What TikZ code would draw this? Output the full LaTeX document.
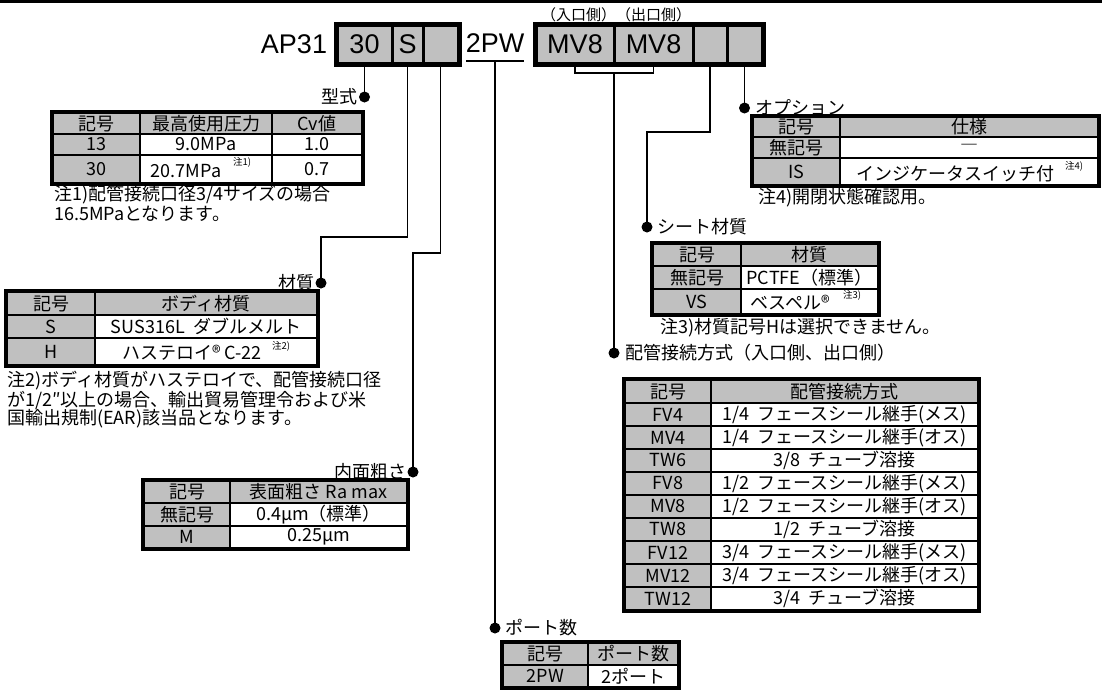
\documentclass[tikz,border=0pt]{standalone}
\usepackage{fontspec}
\setmainfont{Noto Sans CJK JP}
\newfontfamily\codefont{Liberation Sans}
\definecolor{CellGray}{HTML}{C0C0C0}
\usetikzlibrary{positioning}

\begin{document}
\begin{tikzpicture}[x=1pt, y=-1pt,
    font=\fontsize{18}{19}\selectfont,
    hd/.style={rectangle, draw, line width=2.4pt, fill=CellGray, inner sep=0pt},
    bd/.style={rectangle, draw, line width=2.4pt, fill=white, inner sep=0pt},
    sz/.style 2 args={minimum width=#1pt, minimum height=#2pt},
    cbx/.style={hd, line width=3pt, minimum height=38pt, font=\codefont\fontsize{27}{30}\selectfont},
    code/.style={font=\codefont\fontsize{27}{30}\selectfont, inner sep=0pt},
    frame/.style={line width=3.5pt},
    dot/.style={circle, fill, inner sep=0pt, minimum size=11pt},
    lead/.style={line width=1.4pt},
    sup/.style={font=\fontsize{9.5}{10}\selectfont, inner sep=0pt},
    lbl/.style={inner sep=0pt}]
    \useasboundingbox (0,0) rectangle (1102,691);
    \draw[line width=3.5pt] (0,1.5) -- (1102,1.5);

    % model code
    \node[code] (ap) at (294,44) {AP31};
    \node[cbx, minimum width=55pt] (c30) at (364.5,44) {30};
    \node[cbx, minimum width=31pt] (cS) at (407.5,44) {S};
    \node[cbx, minimum width=35pt] (cE1) at (440.5,44) {};
    \draw[line width=4pt] (c30.north west) rectangle (cE1.south east);
    \node[code] (n2pw) at (495,43) {2PW};
    \coordinate (uL) at (466,61);
    \coordinate (uR) at (524,61);
    \coordinate (u2pw) at (495,61);
    \draw[lead] (uL) -- (uR);
    \node[cbx, minimum width=78pt] (cIn) at (575,44) {MV8};
    \node[cbx, minimum width=79pt] (cOut) at (653.5,44) {MV8};
    \node[cbx, minimum width=34pt] (cE2) at (710,44) {};
    \node[cbx, minimum width=35pt] (cE3) at (744.5,44) {};
    \draw[line width=4pt] (cIn.north west) rectangle (cE3.south east);
    \node[font=\fontsize{15}{16}\selectfont] (io) at (616,15) {（入口側）（出口側）};

    % leads
    \node[dot] (dType) at (364.5,97) {};
    \draw[lead] (c30.south) -- (dType.center);
    \coordinate (jMat) at (321,237);
    \node[dot] (dMat) at (321,283) {};
    \draw[lead] (cS.south) |- (jMat) -- (dMat.center);
    \coordinate (jRgh) at (413,253);
    \node[dot] (dRgh) at (413,472) {};
    \draw[lead] (cE1.south) |- (jRgh) -- (dRgh.center);
    \node[dot] (dPort) at (495,628) {};
    \draw[lead] (u2pw) -- (dPort.center);
    \coordinate (brk) at (614,73);
    \node[dot] (dPipe) at (614,353) {};
    \draw[lead] (cIn.south) |- (brk) -| (cOut.south);
    \draw[lead] (brk) -- (dPipe.center);
    \coordinate (jSeat) at (647,132);
    \node[dot] (dSeat) at (647,227) {};
    \draw[lead] (cE2.south) |- (jSeat) -- (dSeat.center);
    \node[dot] (dOpt) at (744.5,108) {};
    \draw[lead] (cE3.south) -- (dOpt.center);

    \node[lbl, left=1pt of dType] (lType) {型式};
    \node[lbl, left=1pt of dMat] (lMat) {材質};
    \node[lbl, left=1pt of dRgh] (lRgh) {内面粗さ};
    \node[lbl, right=5pt of dPort] (lPort) {ポート数};
    \node[lbl, right=6pt of dPipe] (lPipe) {配管接続方式（入口側、出口側）};
    \node[lbl, right=5pt of dSeat] (lSeat) {シート材質};
    \node[lbl, right=5pt of dOpt] (lOpt) {オプション};

    % type
    \node[hd, sz={87}{21}] (tT11) at (96.5,123.5) {記号};
    \node[hd, sz={132}{21}] (tT12) at (206,123.5) {最高使用圧力};
    \node[hd, sz={90}{21}] (tT13) at (317,123.5) {Cv値};
    \node[hd, sz={87}{21}] (tT21) at (96.5,144.5) {13};
    \node[bd, sz={132}{21}] (tT22) at (206,144.5) {9.0MPa};
    \node[bd, sz={90}{21}] (tT23) at (317,144.5) {1.0};
    \node[hd, sz={87}{28}] (tT31) at (96.5,169) {30};
    \node[bd, sz={132}{28}] (tT32) at (206,169) {};
    \node[bd, sz={90}{28}] (tT33) at (317,169) {0.7};
    \node[lbl] (tT32a) at (186,171) {20.7MPa};
    \node[sup] (tT32b) at (242,162) {注1)};
    \draw[frame] (tT11.north west) rectangle (tT33.south east);
    \node[lbl, anchor=west] (nT1) at (54,195) {注1)配管接続口径3/4サイズの場合};
    \node[lbl, anchor=west] (nT2) at (54,214) {16.5MPaとなります。};

    % body material
    \node[hd, sz={88}{23}] (tM11) at (51,303.5) {記号};
    \node[hd, sz={222}{23}] (tM12) at (206,303.5) {ボディ材質};
    \node[hd, sz={88}{23}] (tM21) at (51,326.5) {S};
    \node[bd, sz={222}{23}] (tM22) at (206,326.5) {SUS316L\ \ ダブルメルト};
    \node[hd, sz={88}{27}] (tM31) at (51,351.5) {H};
    \node[bd, sz={222}{27}] (tM32) at (206,351.5) {};
    \node[lbl] (tM32a) at (192,353) {ハステロイ® C-22};
    \node[sup] (tM32b) at (281,346) {注2)};
    \draw[frame] (tM11.north west) rectangle (tM32.south east);
    \node[lbl, anchor=west] (nM1) at (7,381) {注2)ボディ材質がハステロイで、配管接続口径};
    \node[lbl, anchor=west] (nM2) at (7,400) {が1/2″以上の場合、輸出貿易管理令および米};
    \node[lbl, anchor=west] (nM3) at (7,419) {国輸出規制(EAR)該当品となります。};

    % roughness
    \node[hd, sz={86}{22}] (tR11) at (187,492) {記号};
    \node[hd, sz={177}{22}] (tR12) at (318.5,492) {表面粗さ Ra max};
    \node[hd, sz={86}{23}] (tR21) at (187,514.5) {無記号};
    \node[bd, sz={177}{23}] (tR22) at (318.5,514.5) {0.4μm（標準）};
    \node[hd, sz={86}{22}] (tR31) at (187,537) {M};
    \node[bd, sz={177}{22}] (tR32) at (318.5,537) {0.25μm};
    \draw[frame] (tR11.north west) rectangle (tR32.south east);

    % ports
    \node[hd, sz={85}{22}] (tP11) at (545.5,654) {記号};
    \node[hd, sz={90}{22}] (tP12) at (633,654) {ポート数};
    \node[hd, sz={85}{22}] (tP21) at (545.5,676) {2PW};
    \node[bd, sz={90}{22}] (tP22) at (633,676) {2ポート};
    \draw[frame] (tP11.north west) rectangle (tP22.south east);

    % pipe connection
    \node[hd, sz={86}{23}] (tF01) at (668,391.5) {記号};
    \node[hd, sz={267}{23}] (tF02) at (844.5,391.5) {配管接続方式};
    \node[hd, sz={86}{23}] (tF11) at (668,414.5) {FV4};
    \node[bd, sz={267}{23}] (tF12) at (844.5,414.5) {1/4\ \ フェースシール継手(メス)};
    \node[hd, sz={86}{23}] (tF21) at (668,437.5) {MV4};
    \node[bd, sz={267}{23}] (tF22) at (844.5,437.5) {1/4\ \ フェースシール継手(オス)};
    \node[hd, sz={86}{23}] (tF31) at (668,460.5) {TW6};
    \node[bd, sz={267}{23}] (tF32) at (844.5,460.5) {3/8\ \ チューブ溶接};
    \node[hd, sz={86}{23}] (tF41) at (668,483.5) {FV8};
    \node[bd, sz={267}{23}] (tF42) at (844.5,483.5) {1/2\ \ フェースシール継手(メス)};
    \node[hd, sz={86}{23}] (tF51) at (668,506.5) {MV8};
    \node[bd, sz={267}{23}] (tF52) at (844.5,506.5) {1/2\ \ フェースシール継手(オス)};
    \node[hd, sz={86}{23}] (tF61) at (668,529.5) {TW8};
    \node[bd, sz={267}{23}] (tF62) at (844.5,529.5) {1/2\ \ チューブ溶接};
    \node[hd, sz={86}{23}] (tF71) at (668,552.5) {FV12};
    \node[bd, sz={267}{23}] (tF72) at (844.5,552.5) {3/4\ \ フェースシール継手(メス)};
    \node[hd, sz={86}{23}] (tF81) at (668,575.5) {MV12};
    \node[bd, sz={267}{23}] (tF82) at (844.5,575.5) {3/4\ \ フェースシール継手(オス)};
    \node[hd, sz={86}{23}] (tF91) at (668,598.5) {TW12};
    \node[bd, sz={267}{23}] (tF92) at (844.5,598.5) {3/4\ \ チューブ溶接};
    \draw[frame] (tF01.north west) rectangle (tF92.south east);

    % seat
    \node[hd, sz={88}{22}] (tS11) at (697,255) {記号};
    \node[hd, sz={137}{22}] (tS12) at (809.5,255) {材質};
    \node[hd, sz={88}{23}] (tS21) at (697,277.5) {無記号};
    \node[bd, sz={137}{23}] (tS22) at (809.5,277.5) {PCTFE（標準）};
    \node[hd, sz={88}{25}] (tS31) at (697,301.5) {VS};
    \node[bd, sz={137}{25}] (tS32) at (809.5,301.5) {};
    \node[lbl] (tS32a) at (790,303) {ベスペル®};
    \node[sup] (tS32b) at (852,295) {注3)};
    \draw[frame] (tS11.north west) rectangle (tS32.south east);
    \node[lbl, anchor=west] (nS1) at (660,328) {注3)材質記号Hは選択できません。};

    % option
    \node[hd, sz={87}{20}] (tO11) at (796.5,127) {記号};
    \node[hd, sz={258}{20}] (tO12) at (969,127) {仕様};
    \node[hd, sz={87}{21}] (tO21) at (796.5,147.5) {無記号};
    \node[bd, sz={258}{21}] (tO22) at (969,147.5) {―};
    \node[hd, sz={87}{27}] (tO31) at (796.5,171.5) {IS};
    \node[bd, sz={258}{27}] (tO32) at (969,171.5) {};
    \node[lbl] (tO32a) at (955,174) {インジケータスイッチ付};
    \node[sup] (tO32b) at (1074,166) {注4)};
    \draw[frame] (tO11.north west) rectangle (tO32.south east);
    \node[lbl, anchor=west] (nO1) at (758,198) {注4)開閉状態確認用。};
\end{tikzpicture}
\end{document}
